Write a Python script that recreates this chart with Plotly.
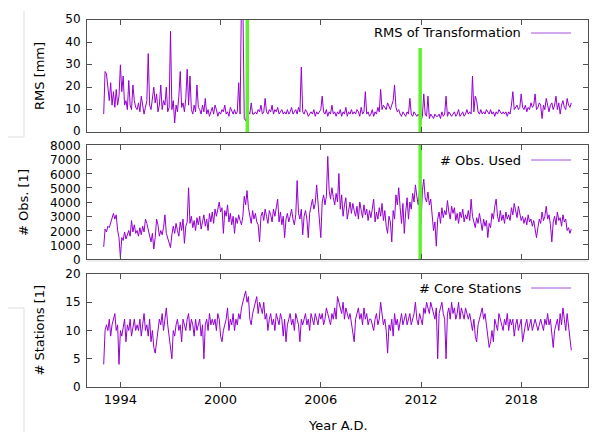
import plotly.graph_objects as go

# ---- data (monthly samples) ----
start_year = 1993.0
samples_per_year = 12

rms_mm = [
    8, 27, 26, 20, 14, 22, 12, 18, 11, 19, 12, 16,          # 1993
    30, 18, 25, 12, 14, 10, 23, 12, 10, 21, 14, 11,         # 1994
    10, 13, 9, 16, 12, 8, 11, 14, 35, 12, 10, 15,           # 1995
    20, 13, 17, 9, 12, 21, 10, 14, 12, 20, 9, 11,           # 1996
    45, 10, 14, 4, 12, 9, 16, 27, 11, 13, 9, 15,            # 1997
    28, 12, 25, 10, 8, 12, 9, 21, 11, 10, 8, 12,            # 1998
    9, 15, 8, 10, 7, 9, 11, 8, 12, 10, 7, 9,                # 1999
    8, 10, 9, 12, 8, 9, 7, 11, 9, 8, 10, 8,                 # 2000
    9, 22, 8, 60, 58, 6, 5, 8, 9, 8, 13, 8,                 # 2001
    8, 9, 8, 10, 9, 12, 8, 9, 15, 9, 8, 10,                 # 2002
    9, 12, 8, 10, 9, 11, 8, 9, 10, 8, 9, 8,                 # 2003
    10, 8, 9, 11, 8, 9, 10, 8, 11, 9, 29, 9,                # 2004
    8, 10, 9, 7, 8, 9, 8, 10, 7, 9, 8, 9,                   # 2005
    10, 16, 9, 8, 10, 7, 9, 8, 12, 8, 9, 7,                 # 2006
    9, 8, 10, 7, 9, 8, 11, 7, 9, 8, 10, 8,                  # 2007
    9, 8, 10, 9, 7, 11, 8, 9, 18, 8, 9, 7,                  # 2008
    8, 10, 7, 9, 8, 11, 9, 19, 10, 12, 11, 10,              # 2009
    13, 11, 10, 12, 14, 21, 11, 9, 10, 8, 7, 9,             # 2010
    8, 7, 9, 8, 15, 8, 7, 9, 8, 7, 8, 6,                    # 2011
    5, 7, 17, 8, 7, 16, 6, 8, 7, 6, 8, 7,                   # 2012
    7, 8, 6, 9, 7, 8, 16, 7, 9, 8, 7, 8,                    # 2013
    9, 7, 8, 10, 7, 8, 9, 7, 8, 10, 8, 9,                   # 2014
    8, 25, 9, 16, 14, 9, 8, 10, 8, 9, 8, 10,                # 2015
    9, 8, 10, 8, 9, 7, 9, 8, 10, 9, 8, 9,                   # 2016
    8, 9, 7, 9, 8, 12, 18, 10, 11, 12, 10, 11,              # 2017
    17, 11, 10, 12, 9, 11, 10, 13, 11, 12, 17, 10,          # 2018
    11, 13, 12, 6, 12, 10, 15, 11, 9, 12, 13, 10,           # 2019
    12, 16, 10, 13, 8, 12, 14, 11, 10, 15, 12, 11,          # 2020
    13,                                                     # 2021
]

obs_used = [
    850, 2100, 1900, 2300, 2200, 2500, 2900, 3200, 2800, 3100, 2000, 1500,   # 1993
    100, 1500, 1300, 1900, 1400, 1800, 2000, 1600, 2700, 1900, 2400, 1800,   # 1994
    2000, 1600, 2200, 1700, 2300, 1900, 2800, 2500, 2000, 1500, 1200, 1800,  # 1995
    700, 1500, 2800, 2400, 1600, 2000, 1700, 2200, 3100, 1800, 1400, 1200,   # 1996
    800, 1700, 2300, 1800, 2500, 2000, 1600, 2600, 2000, 2800, 1100, 2300,   # 1997
    2600, 5000, 2500, 3000, 2200, 2700, 2000, 2900, 2400, 3000, 2100, 2600,  # 1998
    3100, 2300, 2800, 2000, 3200, 2600, 3300, 2500, 3500, 3000, 3600, 4000,  # 1999
    3300, 3600, 1800, 3400, 3000, 3800, 2600, 3200, 2400, 3000, 1800, 2900,  # 2000
    2500, 3100, 2700, 2400, 3000, 4400, 3800, 4800, 3600, 3000, 2500, 3400,  # 2001
    2800, 3200, 2600, 2400, 1200, 3000, 3300, 2700, 3500, 3000, 2500, 3400,  # 2002
    3100, 2600, 3500, 3000, 3800, 4200, 2600, 3300, 2400, 3000, 1500, 2800,  # 2003
    3200, 2600, 3000, 3500, 2800, 2400, 3100, 5500, 3200, 2800, 3500, 1700,  # 2004
    3000, 3400, 2800, 1500, 3200, 3600, 4200, 3500, 3900, 5200, 3800, 2200,  # 2005
    1500, 4000, 4500, 3800, 4400, 7200, 4800, 4200, 5000, 4300, 3800, 4600,  # 2006
    4000, 6000, 3500, 4500, 3000, 3800, 4300, 2800, 3600, 4000, 3200, 3900,  # 2007
    3400, 3000, 3700, 2800, 4000, 3300, 2900, 3800, 3100, 3500, 2700, 3400,  # 2008
    2900, 3500, 4200, 2600, 3300, 2800, 3600, 3000, 3900, 2700, 3400, 2300,  # 2009
    1800, 3000, 2600, 1200, 3400, 2800, 4500, 3800, 5000, 3600, 2500, 3900,  # 2010
    1800, 3300, 4300, 2800, 4000, 3500, 4600, 4000, 5200, 4400, 3800, 4900,  # 2011
    2500, 4800, 5600, 4300, 4000, 4700, 3800, 4200, 3300, 2000, 2600, 900,   # 2012
    2800, 3300, 2500, 3600, 2900, 3400, 3100, 4100, 3300, 2800, 3700, 3200,  # 2013
    3600, 2700, 3200, 2500, 3300, 2900, 3500, 2600, 3100, 2800, 3400, 2700,  # 2014
    4200, 3000, 2600, 2200, 2900, 2500, 3200, 2400, 2000, 2800, 2300, 2700,  # 2015
    1500, 2500, 2200, 3200, 2800, 3700, 4200, 3000, 2600, 3400, 2700, 3100,  # 2016
    2500, 3300, 2800, 3100, 2700, 3600, 3100, 3900, 3300, 2900, 3700, 3200,  # 2017
    2700, 3000, 2500, 2900, 2400, 3100, 2600, 2800, 2300, 2700, 2000, 1500,  # 2018
    2200, 2800, 2500, 3300, 2700, 3000, 3700, 2800, 3100, 2400, 1200, 2600,  # 2019
    3000, 2400, 3300, 2700, 2900, 2300, 3100, 2600, 2800, 2000, 2200, 1800,  # 2020
    2100,                                                                    # 2021
]

core_stations = [
    4, 10, 11, 10, 12, 9, 11, 12, 13, 10, 11, 4,            # 1993
    10, 9, 11, 12, 8, 11, 10, 12, 9, 11, 12, 10,            # 1994
    11, 10, 12, 9, 11, 13, 10, 11, 9, 12, 8, 10,            # 1995
    7, 6, 8, 10, 12, 11, 13, 10, 12, 14, 11, 9,             # 1996
    8, 5, 10, 9, 11, 12, 10, 11, 8, 12, 11, 10,             # 1997
    12, 13, 10, 12, 11, 9, 12, 10, 11, 12, 9, 11,           # 1998
    5, 11, 12, 10, 13, 11, 12, 11, 12, 10, 13, 12,          # 1999
    9, 8, 10, 11, 12, 14, 10, 12, 11, 13, 10, 12,           # 2000
    11, 13, 12, 14, 15, 16, 17, 15, 16, 12, 11, 13,         # 2001
    14, 15, 16, 13, 15, 14, 13, 15, 12, 13, 10, 12,         # 2002
    13, 11, 12, 10, 13, 12, 11, 13, 12, 9, 12, 8,           # 2003
    11, 12, 13, 11, 12, 10, 13, 12, 11, 8, 12, 11,          # 2004
    12, 13, 11, 12, 10, 13, 12, 11, 13, 12, 11, 13,         # 2005
    12, 13, 11, 12, 14, 13, 12, 11, 13, 12, 14, 12,         # 2006
    16, 15, 14, 13, 15, 12, 14, 13, 12, 13, 11, 9,          # 2007
    8, 12, 13, 14, 12, 13, 11, 14, 12, 13, 11, 12,          # 2008
    12, 11, 10, 12, 13, 11, 12, 15, 13, 11, 12, 10,         # 2009
    6, 11, 10, 12, 9, 13, 11, 12, 10, 12, 13, 11,           # 2010
    12, 13, 11, 12, 13, 11, 12, 13, 15, 12, 11, 13,         # 2011
    12, 11, 14, 13, 15, 14, 13, 15, 14, 13, 12, 14,         # 2012
    5, 13, 14, 15, 13, 12, 5, 13, 14, 12, 15, 13,           # 2013
    14, 12, 13, 15, 12, 14, 13, 12, 14, 13, 12, 13,         # 2014
    11, 10, 12, 9, 8, 11, 12, 13, 14, 12, 13, 11,           # 2015
    9, 7, 8, 10, 8, 12, 11, 10, 13, 12, 11, 10,             # 2016
    12, 11, 13, 10, 12, 11, 12, 9, 11, 12, 10, 11,          # 2017
    12, 8, 10, 11, 12, 10, 11, 12, 10, 11, 12, 11,          # 2018
    10, 11, 12, 11, 10, 12, 11, 13, 11, 12, 10, 7,          # 2019
    10, 11, 12, 10, 13, 11, 14, 12, 10, 13, 11, 9,          # 2020
    6.5,                                                    # 2021
]

# vertical green markers: (year, bottom, top) per panel
markers_rms = [(2001.6, 0, 50), (2011.95, 0, 37.5)]
markers_obs = [(2011.95, 0, 8000)]

x_ticks = [1994, 2000, 2006, 2012, 2018]
x_tick_labels = ["1994", "2000", "2006", "2012", "2018"]
rms_ticks = [0, 10, 20, 30, 40, 50]
obs_ticks = [0, 1000, 2000, 3000, 4000, 5000, 6000, 7000, 8000]
sta_ticks = [0, 5, 10, 15, 20]

series_names = ["RMS of Transformation", "# Obs. Used", "# Core Stations"]
axis_titles = ["RMS [mm]", "# Obs. [1]", "# Stations [1]"]
x_title = "Year A.D."

# ---- styling ----
W, H = 605, 432
VIOLET = "#9400d3"
VIOLET_KEY = "#a550e0"
GREEN = "#5ef22c"
FRAME = "#505050"
FONT = "DejaVu Sans"

def px_x(p):
    return p / W

def px_y(p):
    return 1 - p / H

panels = [(20, 132), (145, 259), (274, 387)]
x_left, x_right = 87, 588

fig = go.Figure()

def years_for(values):
    return [start_year + i / samples_per_year for i in range(len(values))]

data = [rms_mm, obs_used, core_stations]
for k, vals in enumerate(data):
    ax = "" if k == 0 else str(k + 1)
    fig.add_trace(go.Scatter(
        x=years_for(vals), y=vals, mode="lines",
        line=dict(color=VIOLET, width=1), showlegend=False,
        xaxis="x" + ax, yaxis="y" + ax, hoverinfo="skip"))

for (yr, lo, hi) in markers_rms:
    fig.add_trace(go.Scatter(x=[yr, yr], y=[lo, hi], mode="lines",
                             line=dict(color=GREEN, width=3.5), showlegend=False,
                             xaxis="x", yaxis="y", hoverinfo="skip"))
for (yr, lo, hi) in markers_obs:
    fig.add_trace(go.Scatter(x=[yr, yr], y=[lo, hi], mode="lines",
                             line=dict(color=GREEN, width=3.5), showlegend=False,
                             xaxis="x2", yaxis="y2", hoverinfo="skip"))

yticks = [rms_ticks, obs_ticks, sta_ticks]
ytick_shift = [-1, 1, 0]
layout = dict(
    width=W, height=H, margin=dict(l=0, r=0, t=0, b=0),
    paper_bgcolor="white", plot_bgcolor="white",
    font=dict(family=FONT, size=13, color="black"),
)
for k, (top, bot) in enumerate(panels):
    ax = "" if k == 0 else str(k + 1)
    dom_y = [px_y(bot), px_y(top)]
    layout["xaxis" + ax] = dict(
        domain=[px_x(x_left), px_x(x_right)], range=[1992, 2022],
        anchor="y" + ax, tickvals=x_ticks, ticktext=x_tick_labels,
        showticklabels=(k == 2), ticks="inside", ticklen=5, tickcolor=FRAME,
        showline=True, linecolor=FRAME, linewidth=1, mirror="ticks",
        showgrid=False, zeroline=False,
        tickfont=dict(family=FONT, size=13, color="black"), automargin=False)
    layout["yaxis" + ax] = dict(
        domain=dom_y, range=[yticks[k][0], yticks[k][-1]],
        anchor="x" + ax, tickvals=yticks[k],
        ticks="inside", ticklen=5, tickcolor=FRAME, ticklabelstandoff=3,
        ticklabelshift=ytick_shift[k],
        showline=True, linecolor=FRAME, linewidth=1, mirror="ticks",
        showgrid=False, zeroline=False,
        tickfont=dict(family=FONT, size=12, color="black"), automargin=False)
fig.update_layout(**layout)

annotations = []
shapes = []
title_x = [39, 23, 39]
legend_y = [33, 160, 288]
for k, (top, bot) in enumerate(panels):
    annotations.append(dict(
        x=px_x(title_x[k]), y=px_y((top + bot) / 2), xref="paper", yref="paper",
        text=axis_titles[k], textangle=-90, showarrow=False,
        xanchor="center", yanchor="middle", font=dict(family=FONT, size=13)))
    annotations.append(dict(
        x=px_x(523), y=px_y(legend_y[k]), xref="paper", yref="paper",
        text=series_names[k], showarrow=False, xanchor="right", yanchor="middle",
        font=dict(family=FONT, size=13)))
    shapes.append(dict(type="line", xref="paper", yref="paper",
                       x0=px_x(531), x1=px_x(571), y0=px_y(legend_y[k]), y1=px_y(legend_y[k]),
                       line=dict(color=VIOLET_KEY, width=1)))
annotations.append(dict(
    x=px_x(337.5), y=px_y(425), xref="paper", yref="paper", text=x_title,
    showarrow=False, xanchor="center", yanchor="middle", font=dict(family=FONT, size=13)))

# faint page-edge lines visible in the reference picture
LIGHT = "#dddddd"
for (x0, y0, x1, y1) in [(24, 11, 24, 137), (8, 137, 24, 137),
                         (24, 308, 24, 432), (8, 308, 24, 308),
                         (87, 261, 588, 261)]:
    shapes.append(dict(type="line", xref="paper", yref="paper",
                       x0=px_x(x0), x1=px_x(x1), y0=px_y(y0), y1=px_y(y1),
                       line=dict(color=LIGHT, width=1)))

fig.update_layout(annotations=annotations, shapes=shapes)
fig.write_html("out.html", config={"displayModeBar": False},
               post_script="document.body.style.margin='0';document.body.style.overflow='hidden';")
